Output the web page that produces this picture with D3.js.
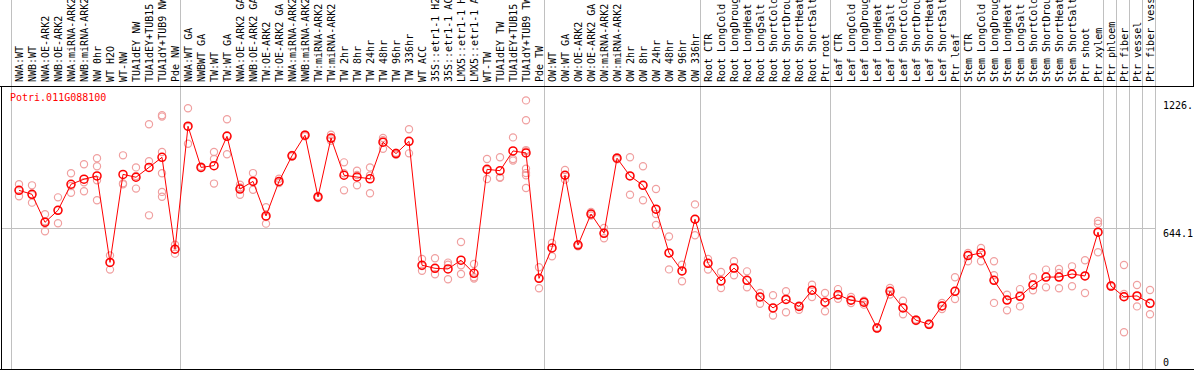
<!DOCTYPE html>
<html>
<head>
<meta charset="utf-8">
<script src="https://cdn.jsdelivr.net/npm/d3@7"></script>
<style>
  body { margin: 0; background: #fff; }
  text { font-family: "DejaVu Sans Mono", monospace; font-size: 10px; }
</style>
</head>
<body>
<svg id="chart" width="1194" height="370"></svg>
<script>
var geneName = "Potri.011G088100";

var samples = [
  "NWA:WT", "NWB:WT", "NWA:OE-ARK2", "NWB:OE-ARK2", "NWA:miRNA-ARK2", "NWB:miRNA-ARK2",
  "NW 0hr", "WT H2O", "WT-NW", "TUA1dEY NW", "TUA1dEY+TUB15", "TUA1dY+TUB9 NW", "Pde NW",
  "NWA:WT GA", "NWBWT GA", "TW:WT", "TW:WT GA", "NWA:OE-ARK2 GA", "NWB:OE-ARK2 GA",
  "TW:OE-ARK2", "TW:OE-ARK2 GA", "NWA:miRNA-ARK2", "NWB:miRNA-ARK2", "TW:miRNA-ARK2",
  "TW:miRNA-ARK2", "TW 2hr", "TW 8hr", "TW 24hr", "TW 48hr", "TW 96hr", "TW 336hr",
  "WT ACC", "35S::etr1-1 H2", "35S::etr1-1 AC", "LMX5::etr1-1 H", "LMX5::etr1-1 A",
  "WT-TW", "TUA1dEY TW", "TUA1dEY+TUB15", "TUA1dY+TUB9 TW", "Pde TW",
  "OW:WT", "OW:WT GA", "OW:OE-ARK2", "OW:OE-ARK2 GA", "OW:miRNA-ARK2", "OW:miRNA-ARK2",
  "OW 2hr", "OW 8hr", "OW 24hr", "OW 48hr", "OW 96hr", "OW 336hr",
  "Root CTR", "Root LongCold", "Root LongDroug", "Root LongHeat", "Root LongSalt",
  "Root ShortCold", "Root ShortDrou", "Root ShortHeat", "Root ShortSalt", "Ptr root",
  "Leaf CTR", "Leaf LongCold", "Leaf LongDroug", "Leaf LongHeat", "Leaf LongSalt",
  "Leaf ShortCold", "Leaf ShortDrou", "Leaf ShortHeat", "Leaf ShortSalt", "Ptr leaf",
  "Stem CTR", "Stem LongCold", "Stem LongDroug", "Stem LongHeat", "Stem LongSalt",
  "Stem ShortCold", "Stem ShortDrou", "Stem ShortHeat", "Stem ShortSalt", "Ptr shoot",
  "Ptr xylem", "Ptr phloem", "Ptr fiber", "Ptr vessel", "Ptr fiber vess"
];

// sample index where each group starts (last one closes the chart)
var groupEdges = [0, 13, 41, 53, 63, 73, 84, 85, 86, 87, 88];

var means = [
  816, 798, 670, 725, 844, 867, 882, 487, 889, 876, 921, 967, 547,
  1109, 921, 929, 1063, 822, 857, 699, 857, 974, 1068, 786, 1055, 885, 877, 869, 1036, 984, 1040,
  474, 460, 457, 497, 437, 912, 906, 996, 987, 414,
  553, 885, 566, 708, 620, 963, 882, 839, 730, 530, 448, 684,
  483, 402, 461, 405, 329, 279, 318, 286, 360, 305,
  339, 314, 305, 187, 355, 279, 223, 204, 288, 355,
  518, 530, 405, 315, 332, 384, 420, 420, 434, 425, 625,
  379, 330, 334, 300
];

var replicates = [
  [844, 789, 816], [839, 760, 795], [707, 629, 675], [784, 666, 725], [894, 836, 805],
  [935, 812, 853], [963, 926, 862, 771], [519, 487, 454], [976, 848, 844], [921, 824, 882],
  [1118, 949, 702], [1159, 1153, 991, 894, 809, 787], [568, 547, 527],
  [1191, 1029, 1106], [925, 921, 918], [991, 959, 847], [1141, 981, 1068], [842, 796, 829],
  [895, 819, 858], [739, 664, 694], [869, 850, 853], [978, 974, 971], [1072, 1068, 1063],
  [786, 781, 790], [1070, 1043, 1052], [944, 894, 816], [906, 839, 886], [921, 803, 884],
  [1055, 1006, 1045], [988, 983, 979], [1095, 985, 1040],
  [503, 449, 470], [506, 460, 433], [486, 476, 410], [580, 474, 434], [480, 419, 413],
  [959, 868, 909], [967, 876, 873], [1058, 959, 952],
  [1227, 1136, 1000, 995, 915, 895, 885, 827], [465, 414, 369],
  [576, 553, 515], [909, 885, 865], [570, 566, 561], [717, 708, 701], [644, 620, 597],
  [967, 962, 958], [967, 882, 796], [926, 839, 771], [822, 730, 708, 658], [605, 530, 455],
  [476, 448, 401], [752, 684, 611],
  [503, 483, 454], [443, 402, 370], [492, 461, 428], [446, 405, 373], [347, 329, 298],
  [337, 279, 244], [355, 318, 259], [290, 286, 271], [385, 360, 329], [347, 305, 264],
  [365, 339, 321], [329, 314, 301], [312, 305, 294], [190, 187, 185], [370, 355, 340],
  [312, 279, 250], [226, 222, 219], [207, 204, 201], [302, 288, 274], [419, 355, 320],
  [530, 518, 492], [553, 530, 492], [492, 428, 405, 302], [339, 315, 268], [365, 332, 286],
  [419, 384, 360], [454, 420, 373], [457, 439, 420, 369], [469, 434, 378], [497, 425, 347],
  [676, 664, 625, 533],
  [382, 379, 376], [475, 343, 330, 168], [384, 334, 286], [361, 300, 250]
];

var yMax = 1288.2;
var yTicks = [1226.8, 644.1, 0];
var yTickLabels = ["1226.", "644.1", "0"];

var svg = d3.select("#chart");

var labelBottom = 86;
var plotTop = 87, plotBottom = 369;

var x = d3.scaleLinear()
    .domain([0, samples.length])
    .range([11, 1155]);
var px = function(i) { return x(i) + 8; };

var y = d3.scaleLinear()
    .domain([0, yMax])
    .range([plotBottom, plotTop]);

// group separators (full height)
svg.append("g")
  .selectAll("line")
  .data(groupEdges)
  .enter().append("line")
    .attr("x1", d => x(d) + 0.5)
    .attr("x2", d => x(d) + 0.5)
    .attr("y1", 0)
    .attr("y2", plotBottom)
    .attr("stroke", "#c0c0c0")
    .attr("shape-rendering", "crispEdges");

// mid grid line
svg.append("line")
    .attr("x1", 1).attr("x2", 1155)
    .attr("y1", Math.round(y(yTicks[1])) + 0.5)
    .attr("y2", Math.round(y(yTicks[1])) + 0.5)
    .attr("stroke", "#c0c0c0")
    .attr("shape-rendering", "crispEdges");

// frame
svg.append("line")
    .attr("x1", 0).attr("x2", 1194)
    .attr("y1", labelBottom + 0.5).attr("y2", labelBottom + 0.5)
    .attr("stroke", "#000").attr("shape-rendering", "crispEdges");
svg.append("line")
    .attr("x1", 0).attr("x2", 1194)
    .attr("y1", plotBottom + 0.5).attr("y2", plotBottom + 0.5)
    .attr("stroke", "#000").attr("shape-rendering", "crispEdges");
svg.append("line")
    .attr("x1", 1.5).attr("x2", 1.5)
    .attr("y1", labelBottom).attr("y2", 370)
    .attr("stroke", "#000").attr("shape-rendering", "crispEdges");
svg.append("line")
    .attr("x1", 1193.5).attr("x2", 1193.5)
    .attr("y1", 0).attr("y2", labelBottom)
    .attr("stroke", "#000").attr("shape-rendering", "crispEdges");

// sample labels
svg.append("g")
  .selectAll("text")
  .data(samples)
  .enter().append("text")
    .attr("transform", (d, i) => "translate(" + (px(i) + 3.5) + "," + 82 + ") rotate(-90)")
    .attr("fill", "#000")
    .text(d => d);

// y labels
svg.append("g")
  .selectAll("text")
  .data(yTicks)
  .enter().append("text")
    .attr("x", 1163)
    .attr("y", (d, i) => i == yTicks.length - 1 ? y(d) - 3 : y(d) + 9)
    .attr("fill", "#000")
    .text((d, i) => yTickLabels[i]);

// title
svg.append("text")
    .attr("x", 10)
    .attr("y", 101)
    .attr("fill", "#ff0000")
    .text(geneName);

// replicates
var reps = [];
replicates.forEach(function(r, i) {
  r.forEach(function(v) { reps.push({i: i, v: v}); });
});
svg.append("g")
  .selectAll("circle")
  .data(reps)
  .enter().append("circle")
    .attr("cx", d => px(d.i))
    .attr("cy", d => y(d.v))
    .attr("r", 3.6)
    .attr("fill", "none")
    .attr("stroke", "#f0a0a0")
    .attr("stroke-width", 1.2);

var line = d3.line()
    .x((d, i) => px(i))
    .y(d => y(d));

svg.append("path")
    .datum(means)
    .attr("d", line)
    .attr("fill", "none")
    .attr("stroke", "#ff0000")
    .attr("stroke-width", 1);

svg.append("g")
  .selectAll("circle")
  .data(means)
  .enter().append("circle")
    .attr("cx", (d, i) => px(i))
    .attr("cy", d => y(d))
    .attr("r", 4)
    .attr("fill", "none")
    .attr("stroke", "#ff0000")
    .attr("stroke-width", 1.5);
</script>
</body>
</html>
